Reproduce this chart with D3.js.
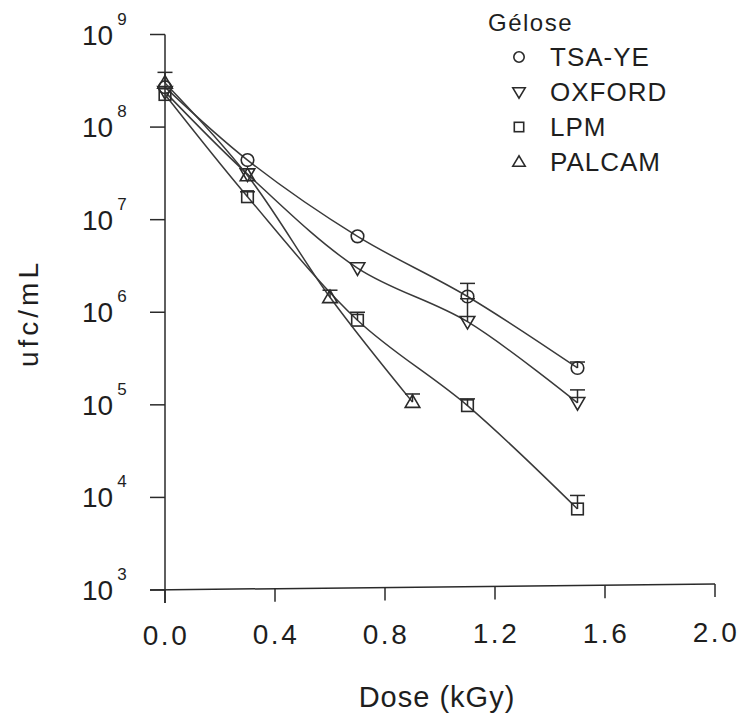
<!DOCTYPE html>
<html>
<head>
<meta charset="utf-8">
<script src="https://cdn.jsdelivr.net/npm/d3@7"></script>
<style>
  body { margin: 0; background: #fff; }
  text { font-family: "Liberation Sans", "DejaVu Sans", sans-serif; fill: #1e1e1e; }
</style>
</head>
<body>
<script>
// chart size
var w = 739;
var h = 722;

// data
var seriesNames = ["TSA-YE", "OXFORD", "LPM", "PALCAM"];
var tsaDose = [0, 0.3, 0.7, 1.1, 1.5];
var tsaValue = [2.7e8, 4.4e7, 6.6e6, 1.48e6, 2.5e5];
var tsaUpper = [null, null, null, 2.05e6, 2.9e5];
var oxfDose = [0, 0.3, 0.7, 1.1, 1.5];
var oxfValue = [2.4e8, 3.1e7, 3.0e6, 7.9e5, 1.05e5];
var oxfUpper = [null, null, null, 1.4e6, 1.45e5];
var lpmDose = [0, 0.3, 0.7, 1.1, 1.5];
var lpmValue = [2.25e8, 1.77e7, 8.2e5, 9.8e4, 7.5e3];
var lpmUpper = [null, 2.0e7, 1.0e6, 1.16e5, 1.05e4];
var palDose = [0, 0.3, 0.6, 0.9];
var palValue = [3.0e8, 3.0e7, 1.45e6, 1.07e5];
var palUpper = [3.9e8, null, 1.73e6, 1.31e5];

var xTicks = [0, 0.4, 0.8, 1.2, 1.6, 2.0];
var yExponents = [3, 4, 5, 6, 7, 8, 9];

var series = [
  { name: seriesNames[0], symbol: "circle", dose: tsaDose, value: tsaValue, upper: tsaUpper },
  { name: seriesNames[1], symbol: "down", dose: oxfDose, value: oxfValue, upper: oxfUpper },
  { name: seriesNames[2], symbol: "square", dose: lpmDose, value: lpmValue, upper: lpmUpper },
  { name: seriesNames[3], symbol: "up", dose: palDose, value: palValue, upper: palUpper }
];

var ink = "#2a2a2a";
var tilt = 3; // scanned axis drops a few px towards the right

var xScale = d3.scaleLinear().domain([0, 2]).range([165, 715]);
var yScale = d3.scaleLog().domain([1e3, 1e9]).range([590, 34.5]);

var svg = d3.select("body").append("svg")
  .attr("width", w)
  .attr("height", h);

// axes, drawn by hand to get the plotter look
svg.append("line")
  .attr("x1", xScale(0)).attr("x2", xScale(0))
  .attr("y1", yScale(1e9)).attr("y2", yScale(1e3) + 13)
  .attr("stroke", ink).attr("stroke-width", 1.5);
svg.append("line")
  .attr("x1", xScale(0) - 15).attr("x2", xScale(2))
  .attr("y1", yScale(1e3)).attr("y2", yScale(1e3) - tilt * 2)
  .attr("stroke", ink).attr("stroke-width", 1.5);

svg.selectAll(".ytick")
  .data(yExponents)
  .enter()
  .append("line")
  .attr("class", "ytick")
  .attr("x1", xScale(0) - 15).attr("x2", xScale(0))
  .attr("y1", function(d) { return yScale(Math.pow(10, d)); })
  .attr("y2", function(d) { return yScale(Math.pow(10, d)); })
  .attr("stroke", ink).attr("stroke-width", 1.5);

var ylab = svg.selectAll(".ylab")
  .data(yExponents)
  .enter()
  .append("text")
  .attr("class", "ylab")
  .attr("x", 82)
  .attr("y", function(d) { return yScale(Math.pow(10, d)) + 10; })
  .attr("font-size", "28px");
ylab.append("tspan").text("10");
ylab.append("tspan")
  .attr("dx", 4)
  .attr("dy", -20)
  .attr("font-size", "17px")
  .text(function(d) { return d; });

svg.selectAll(".xtick")
  .data(xTicks)
  .enter()
  .append("line")
  .attr("class", "xtick")
  .attr("x1", function(d) { return xScale(d); })
  .attr("x2", function(d) { return xScale(d); })
  .attr("y1", function(d) { return yScale(1e3) - tilt * d; })
  .attr("y2", function(d) { return yScale(1e3) - tilt * d + 13; })
  .attr("stroke", ink).attr("stroke-width", 1.5);

svg.selectAll(".xlab")
  .data(xTicks)
  .enter()
  .append("text")
  .attr("class", "xlab")
  .attr("x", function(d) { return xScale(d) + 1; })
  .attr("y", function(d) { return 645 - 1.5 * d; })
  .attr("text-anchor", "middle")
  .attr("font-size", "28px")
  .attr("letter-spacing", "2.5px")
  .text(function(d) { return d.toFixed(1); });

svg.append("text")
  .attr("x", 437).attr("y", 707)
  .attr("text-anchor", "middle")
  .attr("font-size", "29px")
  .attr("letter-spacing", "1px")
  .text("Dose (kGy)");

svg.append("text")
  .attr("transform", "translate(38,313) rotate(-90)")
  .attr("text-anchor", "middle")
  .attr("font-size", "28px")
  .attr("letter-spacing", "4px")
  .text("ufc/mL");

// symbols
function drawSymbol(g, type, x, y, s) {
  if (type == "circle") {
    g.append("circle").attr("cx", x).attr("cy", y).attr("r", s);
  } else if (type == "square") {
    g.append("rect").attr("x", x - s + 0.5).attr("y", y - s + 0.5)
      .attr("width", 2 * s - 1).attr("height", 2 * s - 1);
  } else if (type == "down") {
    g.append("path").attr("d", "M" + (x - s - 1) + "," + (y - s + 1) + "L" + (x + s + 1) + "," + (y - s + 1) + "L" + x + "," + (y + s + 1) + "Z");
  } else {
    g.append("path").attr("d", "M" + (x - s - 1) + "," + (y + s - 1) + "L" + (x + s + 1) + "," + (y + s - 1) + "L" + x + "," + (y - s - 1) + "Z");
  }
}

var line = d3.line()
  .x(function(d) { return xScale(d[0]); })
  .y(function(d) { return yScale(d[1]); })
  .curve(d3.curveCatmullRom.alpha(0.5));

series.forEach(function(s) {
  var pts = s.dose.map(function(d, i) { return [d, s.value[i], s.upper[i]]; });

  svg.append("path")
    .datum(pts)
    .attr("d", line)
    .attr("fill", "none")
    .attr("stroke", "#3a3a3a")
    .attr("stroke-width", 1.5);

  var err = svg.append("g").attr("stroke", ink).attr("stroke-width", 1.5);
  pts.filter(function(d) { return d[2] != null; }).forEach(function(d) {
    var x = xScale(d[0]);
    err.append("line").attr("x1", x).attr("x2", x)
      .attr("y1", yScale(d[1])).attr("y2", yScale(d[2]));
    err.append("line").attr("x1", x - 7.5).attr("x2", x + 7.5)
      .attr("y1", yScale(d[2])).attr("y2", yScale(d[2]));
  });

  var mk = svg.append("g").attr("fill", "none").attr("stroke", ink).attr("stroke-width", 1.6);
  pts.forEach(function(d) {
    drawSymbol(mk, s.symbol, xScale(d[0]), yScale(d[1]), 6.3);
  });
});

// legend
var legend = svg.append("g");
legend.append("text")
  .attr("x", 488).attr("y", 31)
  .attr("font-size", "24px")
  .attr("letter-spacing", "1.5px")
  .text("Gélose");
var lg = legend.append("g").attr("fill", "none").attr("stroke", ink).attr("stroke-width", 1.6);
series.forEach(function(s, i) {
  var y = 57 + i * 35;
  drawSymbol(lg, s.symbol, 519, y, 5.2);
  legend.append("text")
    .attr("x", 550).attr("y", y + 8.5)
    .attr("font-size", "26px")
    .attr("letter-spacing", "1px")
    .text(s.name);
});
</script>
</body>
</html>
